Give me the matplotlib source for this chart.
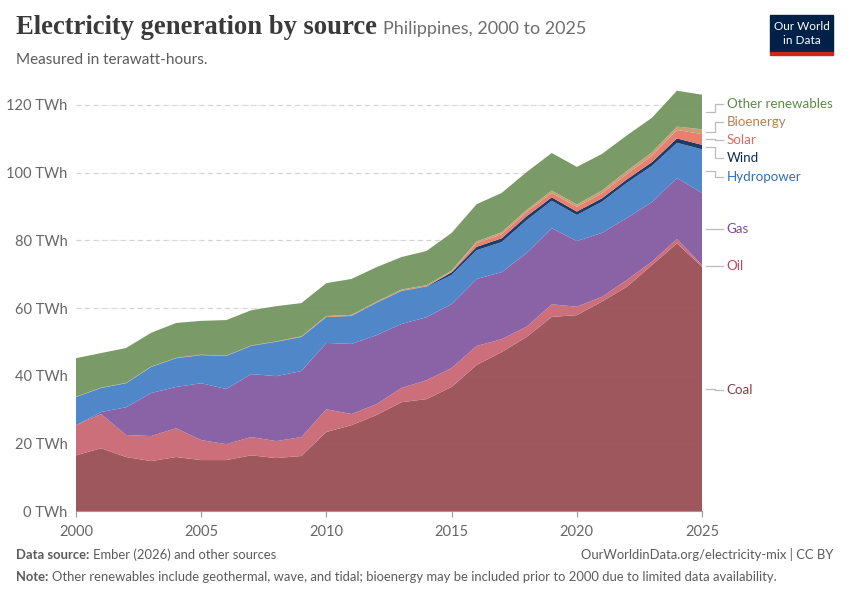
import matplotlib
matplotlib.use("Agg")
from matplotlib import pyplot as plt
from matplotlib.patches import Rectangle
import numpy as np

## data (TWh)
years = list(range(2000, 2026))

coal = [16.5, 18.6, 16.0, 14.8, 16.0, 15.1, 15.1, 16.5, 15.7, 16.3, 23.4, 25.4, 28.4,
        32.2, 33.1, 36.7, 43.2, 47.0, 51.5, 57.4, 57.9, 61.9, 66.3, 72.7, 79.1, 72.2]
oil = [8.9, 10.1, 6.5, 7.4, 8.5, 5.9, 4.7, 5.4, 5.0, 5.6, 6.7, 3.3, 3.2,
       4.2, 5.6, 5.6, 5.6, 3.8, 3.0, 3.7, 2.5, 1.4, 2.0, 1.0, 1.3, 0.5]
gas = [0.0, 0.6, 8.2, 12.7, 12.2, 16.8, 16.3, 18.6, 19.2, 19.5, 19.6, 20.7, 20.4,
       18.9, 18.6, 18.9, 19.8, 19.8, 21.8, 22.5, 19.4, 18.9, 18.3, 17.6, 18.0, 21.3]
hydro = [8.3, 7.1, 7.1, 7.7, 8.5, 8.3, 9.7, 8.3, 10.1, 10.0, 7.6, 8.2, 9.5,
         9.7, 8.9, 8.6, 8.5, 8.9, 9.7, 8.1, 7.7, 9.2, 10.4, 10.7, 10.4, 12.9]
wind = [0.0, 0.0, 0.0, 0.0, 0.0, 0.02, 0.05, 0.06, 0.06, 0.06, 0.06, 0.09, 0.07,
        0.07, 0.15, 0.75, 0.98, 1.1, 1.15, 1.0, 1.0, 1.0, 1.0, 1.1, 1.3, 1.3]
solar = [0.0, 0.0, 0.0, 0.0, 0.0, 0.0, 0.0, 0.0, 0.0, 0.0, 0.0, 0.0, 0.0,
         0.0, 0.02, 0.14, 1.1, 1.2, 1.25, 1.3, 1.4, 1.5, 1.6, 1.9, 2.5, 3.2]
bio = [0.1, 0.1, 0.1, 0.1, 0.1, 0.1, 0.1, 0.1, 0.1, 0.2, 0.3, 0.3, 0.3,
       0.4, 0.4, 0.4, 0.5, 0.6, 0.6, 0.7, 0.7, 0.8, 0.9, 1.0, 1.0, 1.4]
other = [11.4, 10.2, 10.3, 10.0, 10.3, 10.0, 10.5, 10.4, 10.4, 9.8, 9.7, 10.6, 10.2,
         9.6, 10.1, 11.1, 11.0, 11.6, 11.2, 11.1, 11.1, 10.8, 10.5, 10.2, 10.6, 10.2]

names = ["Coal", "Oil", "Gas", "Hydropower", "Wind", "Solar", "Bioenergy", "Other renewables"]
series = [coal, oil, gas, hydro, wind, solar, bio, other]
colors = ["#9f575e", "#cd6e7b", "#8a63a7", "#4f87c9", "#1e3a66", "#e8806e", "#c8a077", "#7a9a68"]
text_colors = ["#8b3b44", "#c2455d", "#7b4c9d", "#2f6cb8", "#0d2a57", "#e06a5a", "#b48352", "#5b8b47"]
label_y = [35.8, 72.4, 83.4, 98.7, 104.3, 109.7, 115.0, 120.3]

plt.rcParams['font.family'] = ['Lato', 'DejaVu Sans']

fig = plt.figure(figsize=(8.5, 6), dpi=100)
ax = fig.add_axes([0.0894, 0.148, 0.7365, 0.711])

ax.stackplot(years, *series, colors=colors, linewidth=0, zorder=2)

ax.set_xlim(2000, 2025)
ax.set_ylim(0, 126)
ax.set_yticks(range(0, 121, 20))
ax.set_yticklabels([f"{v} TWh" for v in range(0, 121, 20)])
ax.set_xticks(range(2000, 2026, 5))
ax.tick_params(axis='y', length=0, labelsize=10.5, colors="#666666", pad=6)
ax.tick_params(axis='x', length=4, labelsize=10.5, colors="#999999", labelcolor="#666666", pad=6)
ax.grid(axis='y', color="#dddddd", linestyle=(0, (4, 3)), linewidth=0.9, zorder=0)
ax.set_axisbelow(True)
for side in ["top", "right", "left"]:
    ax.spines[side].set_visible(False)
ax.spines["bottom"].set_color("#999999")

# faint grid lines showing through the areas
for v in range(20, 121, 20):
    ax.axhline(v, color="#888888", linestyle=(0, (4, 3)), linewidth=0.8, zorder=3, alpha=0.12)

# labels on the right with connector lines
tops = np.cumsum(np.array(series), axis=0)[:, -1]
bottoms = tops - np.array(series)[:, -1]
for i, name in enumerate(names):
    mid = (tops[i] + bottoms[i]) / 2
    ly = label_y[i]
    xs = [2025.15, 2025.5, 2025.5, 2025.85]
    ys = [mid, mid, ly, ly]
    ax.plot(xs, ys, color="#bbbbbb", linewidth=0.9, clip_on=False)
    ax.text(2025.98, ly, name, color=text_colors[i], fontsize=9.6, va='center', ha='left',
            clip_on=False)

# header
fig.text(0.019, 0.944, "Electricity generation by source", fontsize=19.2, fontweight='bold',
         family=['Liberation Serif', 'DejaVu Serif'], color="#3a3a3a", va='baseline')
fig.text(0.451, 0.944, "Philippines, 2000 to 2025", fontsize=13, color="#6e6e6e", va='baseline')
fig.text(0.019, 0.893, "Measured in terawatt-hours.", fontsize=11, color="#5b5b5b", va='baseline')

# logo
fig.patches.append(Rectangle((0.906, 0.913), 0.074, 0.062, transform=fig.transFigure,
                             color="#002147", zorder=5))
fig.patches.append(Rectangle((0.906, 0.908), 0.074, 0.006, transform=fig.transFigure,
                             color="#ce261e", zorder=5))
fig.text(0.943, 0.956, "Our World", fontsize=8.5, color="white", ha='center', va='center', zorder=6)
fig.text(0.943, 0.932, "in Data", fontsize=8.5, color="white", ha='center', va='center', zorder=6)

# footer
fig.text(0.019, 0.069, "Data source:", fontsize=9.4, fontweight='bold', color="#5b5b5b")
fig.text(0.109, 0.069, "Ember (2026) and other sources", fontsize=9.4, color="#5b5b5b")
fig.text(0.981, 0.069, "OurWorldinData.org/electricity-mix | CC BY", fontsize=9.4,
         color="#5b5b5b", ha='right')
fig.text(0.019, 0.032, "Note:", fontsize=9.4, fontweight='bold', color="#5b5b5b")
fig.text(0.061, 0.032, "Other renewables include geothermal, wave, and tidal; bioenergy may be "
         "included prior to 2000 due to limited data availability.", fontsize=9.4, color="#5b5b5b")

fig.savefig("out.png", dpi=100, facecolor="white")
